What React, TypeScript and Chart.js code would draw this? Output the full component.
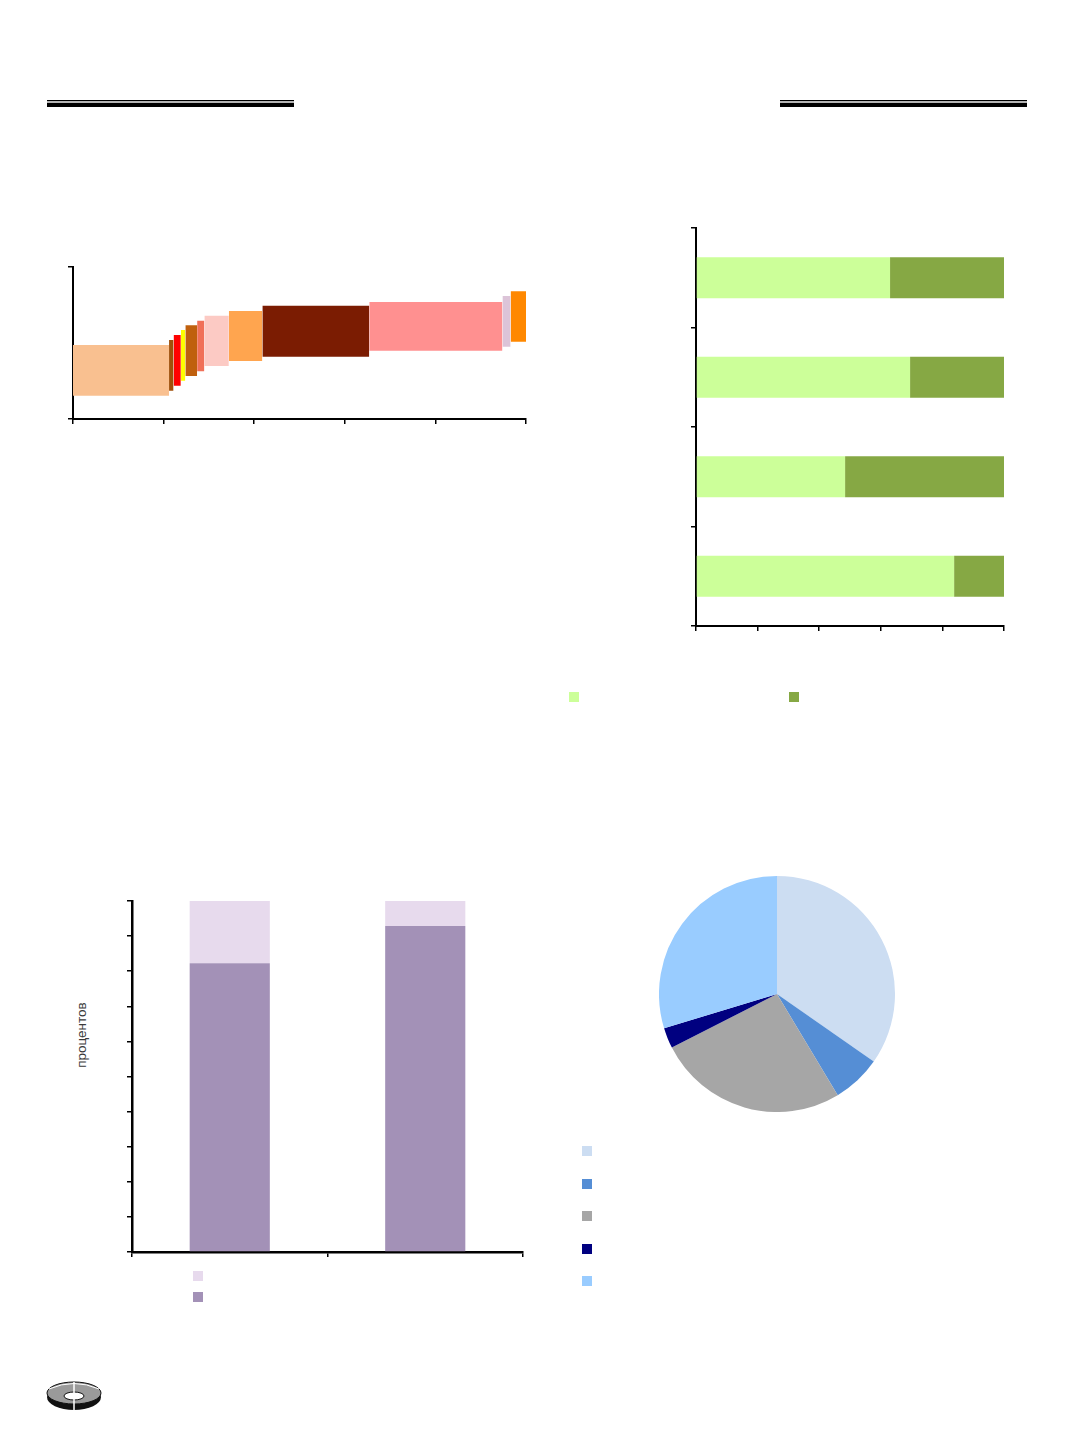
import { useEffect, useRef } from 'react';
import Chart from 'chart.js/auto';

const PAD = 6;
const TICK = 5;

// cost curve blocks, top left (x: cumulative volume, y: band low/high)
const blockStart = [0, 106, 111, 119, 124, 137, 145, 172, 209, 327, 474, 483];
const blockEnd = [106, 111, 119, 124, 137, 145, 172, 209, 327, 474, 483, 500];
const blockLow = [15.3, 18.6, 21.9, 25.2, 28.3, 31.4, 34.9, 38.2, 41, 44.9, 47.6, 50.9];
const blockHigh = [48.7, 52, 55.3, 58.6, 61.6, 64.7, 68, 71, 74.5, 77, 80.9, 84];
const blockColors = [
  '#F9C090',
  '#A0500A',
  '#FF0000',
  '#FFFF00',
  '#C0600E',
  '#F07058',
  '#FCCAC4',
  '#FFA54F',
  '#7B1C02',
  '#FF9090',
  '#DCC4D8',
  '#FF8800',
];

// horizontal 100% bars, top right
const hbarCats = ['a', 'b', 'c', 'd'];
const hbarFirst = [63, 69.5, 48.4, 83.8];
const hbarSecond = [37, 30.5, 51.6, 16.2];
const hbarColors = ['#CCFF99', '#86A844'];

// vertical 100% columns, bottom left
const colCats = ['a', 'b'];
const colTop = [17.7, 7.1];
const colBottom = [82.3, 92.9];
const colColors = ['#E7DAED', '#A391B7'];

// pie, bottom right
const pieShares = [34.7, 6.7, 26.1, 2.8, 29.7];
const pieColors = ['#CCDDF2', '#558ED5', '#A6A6A6', '#000080', '#99CCFF'];

const axisBorder = { color: '#000', width: 2 };
const tickGrid = {
  drawOnChartArea: false,
  color: '#000',
  lineWidth: 1.5,
  tickLength: TICK,
};
const noPlugins = { legend: { display: false }, tooltip: { enabled: false } };

type Area = { l: number; t: number; r: number; b: number };

function ChartBox({ area, make, axes = true }: { area: Area; make: () => any; axes?: boolean }) {
  const ref = useRef<HTMLCanvasElement>(null);
  useEffect(() => {
    if (!ref.current) return;
    const chart = new Chart(ref.current, make());
    return () => chart.destroy();
  }, []);
  const style = axes
    ? {
        left: area.l - PAD - TICK,
        top: area.t - PAD,
        width: area.r - area.l + 2 * PAD + TICK,
        height: area.b - area.t + 2 * PAD + TICK,
      }
    : { left: area.l, top: area.t, width: area.r - area.l, height: area.b - area.t };
  return (
    <div style={{ position: 'absolute', ...style }}>
      <canvas ref={ref} />
    </div>
  );
}

function curveConfig() {
  return {
    type: 'line',
    data: {
      datasets: blockStart.map((x0, i) => ({
        data: [
          { x: x0, y: blockHigh[i] },
          { x: blockEnd[i], y: blockHigh[i] },
        ],
        fill: { value: blockLow[i] },
        backgroundColor: blockColors[i],
        borderColor: 'transparent',
        borderWidth: 0,
        pointRadius: 0,
        tension: 0,
      })),
    },
    options: {
      animation: false,
      responsive: true,
      maintainAspectRatio: false,
      layout: { padding: PAD },
      plugins: noPlugins,
      scales: {
        x: {
          type: 'linear',
          min: 0,
          max: 500,
          ticks: { stepSize: 100, display: false },
          grid: tickGrid,
          border: axisBorder,
        },
        y: {
          min: 0,
          max: 100,
          ticks: { stepSize: 100, display: false },
          grid: tickGrid,
          border: axisBorder,
        },
      },
    },
  };
}

function hbarConfig() {
  return {
    type: 'bar',
    data: {
      labels: hbarCats,
      datasets: [hbarFirst, hbarSecond].map((d, i) => ({
        data: d,
        backgroundColor: hbarColors[i],
        borderWidth: 0,
        barPercentage: 0.41,
        categoryPercentage: 1,
      })),
    },
    options: {
      indexAxis: 'y',
      animation: false,
      responsive: true,
      maintainAspectRatio: false,
      layout: { padding: PAD },
      plugins: noPlugins,
      scales: {
        x: {
          stacked: true,
          min: 0,
          max: 100,
          ticks: { stepSize: 20, display: false },
          grid: tickGrid,
          border: axisBorder,
        },
        y: {
          stacked: true,
          offset: true,
          ticks: { display: false },
          grid: { ...tickGrid, offset: true },
          border: axisBorder,
        },
      },
    },
  };
}

function colConfig() {
  return {
    type: 'bar',
    data: {
      labels: colCats,
      datasets: [colBottom, colTop].map((d, i) => ({
        data: d,
        backgroundColor: colColors[1 - i],
        borderWidth: 0,
        barPercentage: 0.41,
        categoryPercentage: 1,
      })),
    },
    options: {
      animation: false,
      responsive: true,
      maintainAspectRatio: false,
      layout: { padding: PAD },
      plugins: noPlugins,
      scales: {
        x: {
          stacked: true,
          offset: true,
          ticks: { display: false },
          grid: { ...tickGrid, offset: true },
          border: { color: '#000', width: 2.5 },
        },
        y: {
          stacked: true,
          min: 0,
          max: 100,
          ticks: { stepSize: 10, display: false },
          grid: tickGrid,
          border: { color: '#000', width: 2.5 },
        },
      },
    },
  };
}

function pieConfig() {
  return {
    type: 'pie',
    data: {
      labels: pieShares.map((_, i) => String(i)),
      datasets: [
        {
          data: pieShares,
          backgroundColor: pieColors,
          borderWidth: 0,
          hoverOffset: 0,
        },
      ],
    },
    options: {
      animation: false,
      responsive: true,
      maintainAspectRatio: false,
      layout: { padding: 0 },
      plugins: noPlugins,
    },
  };
}

function Swatch({ x, y, color }: { x: number; y: number; color: string }) {
  return (
    <div
      style={{ position: 'absolute', left: x, top: y, width: 10, height: 10, background: color }}
    />
  );
}

function Rule({ x0, x1 }: { x0: number; x1: number }) {
  const w = x1 - x0;
  return (
    <>
      <div style={{ position: 'absolute', left: x0, top: 100, width: w, height: 1, background: '#000' }} />
      <div style={{ position: 'absolute', left: x0, top: 101, width: w, height: 2, background: '#b4b4b4' }} />
      <div style={{ position: 'absolute', left: x0, top: 103, width: w, height: 4, background: '#000' }} />
    </>
  );
}

function Logo() {
  return (
    <svg
      style={{ position: 'absolute', left: 45, top: 1380 }}
      width={58}
      height={33}
      viewBox="0 0 58 33"
    >
      <ellipse cx={29} cy={17} rx={27} ry={13} fill="#111" />
      <ellipse cx={29} cy={13} rx={27} ry={11} fill="#9a9a9a" stroke="#111" strokeWidth={1} />
      <path d="M4 9 Q29 -2 54 9" fill="none" stroke="#fff" strokeWidth={1} />
      <ellipse cx={29} cy={16} rx={10} ry={4} fill="#fff" stroke="#111" strokeWidth={1} />
      <line x1={29} y1={2} x2={29} y2={31} stroke="#fff" strokeWidth={1.5} />
    </svg>
  );
}

export default function App() {
  return (
    <div
      style={{
        position: 'absolute',
        left: 0,
        top: 0,
        width: 1072,
        height: 1433,
        background: '#fff',
        overflow: 'hidden',
        fontFamily: '"Liberation Sans", Arial, sans-serif',
      }}
    >
      <Rule x0={47} x1={294} />
      <Rule x0={780} x1={1027} />

      <ChartBox area={{ l: 73, t: 267, r: 526, b: 419 }} make={curveConfig} />

      <ChartBox area={{ l: 696, t: 228, r: 1004, b: 626 }} make={hbarConfig} />
      <Swatch x={569} y={692} color={hbarColors[0]} />
      <Swatch x={789} y={692} color={hbarColors[1]} />

      <ChartBox area={{ l: 132, t: 901, r: 523, b: 1252 }} make={colConfig} />
      <div
        style={{
          position: 'absolute',
          left: 80.5,
          top: 1035,
          transform: 'translate(-50%, -50%) rotate(-90deg)',
          fontSize: 13.5,
          color: '#3a3a3a',
          whiteSpace: 'nowrap',
        }}
      >
        процентов
      </div>
      <Swatch x={193} y={1271} color={colColors[0]} />
      <Swatch x={193} y={1292} color={colColors[1]} />

      <ChartBox area={{ l: 659, t: 876, r: 895, b: 1112 }} make={pieConfig} axes={false} />
      {pieColors.map((c, i) => (
        <Swatch key={c} x={582} y={[1146, 1179, 1211, 1244, 1276][i]} color={c} />
      ))}

      <Logo />
    </div>
  );
}
